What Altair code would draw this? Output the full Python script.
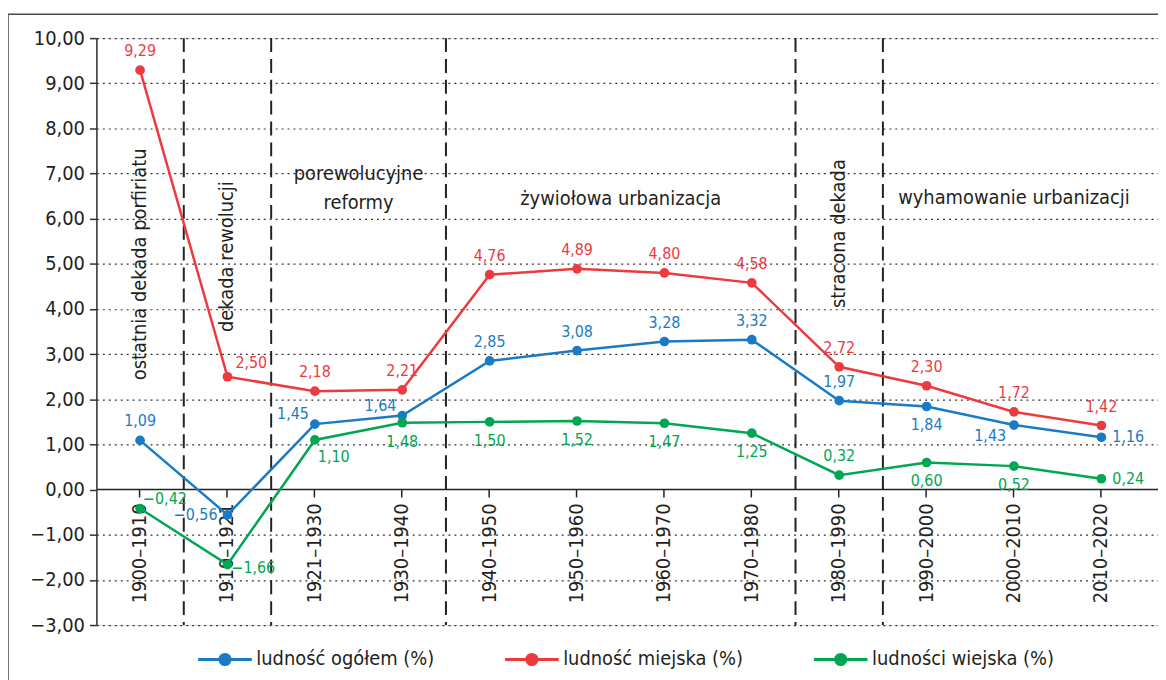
import altair as alt
import pandas as pd

# ---- data ----
periods = ["1900–1910", "1910–1921", "1921–1930", "1930–1940", "1940–1950", "1950–1960",
           "1960–1970", "1970–1980", "1980–1990", "1990–2000", "2000–2010", "2010–2020"]
ogolem = [1.09, -0.56, 1.45, 1.64, 2.85, 3.08, 3.28, 3.32, 1.97, 1.84, 1.43, 1.16]
miejska = [9.29, 2.50, 2.18, 2.21, 4.76, 4.89, 4.80, 4.58, 2.72, 2.30, 1.72, 1.42]
wiejska = [-0.42, -1.66, 1.10, 1.48, 1.50, 1.52, 1.47, 1.25, 0.32, 0.60, 0.52, 0.24]
series_names = ["ludność ogółem (%)", "ludność miejska (%)", "ludności wiejska (%)"]
y_ticks = [v / 2 for v in range(-6, 21)]

# period separators (dashed lines at left edge of these periods)
boundaries = ["1910–1921", "1921–1930", "1940–1950", "1980–1990", "1990–2000"]

# period annotations
rot_text = ["ostatnia dekada porfiriatu", "dekada rewolucji", "stracona dekada"]
rot_cat = ["1900–1910", "1910–1921", "1980–1990"]
rot_y = [4.99, 5.16, 5.67]
mid_text = ["wyhamowanie urbanizacji"]
mid_cat = ["2000–2010"]
mid_y = [6.46]
edge_text = ["porewolucyjne\nreformy", "żywiołowa urbanizacja"]
edge_cat = ["1930–1940", "1960–1970"]
edge_y = [6.98, 6.44]

# ---- styling ----
colors = ["#1a7bc4", "#ee3a3f", "#00a651"]
FONT = "Liberation Sans Narrow, Arial Narrow, DejaVu Sans Condensed, sans-serif"
TXT = "#231f20"
BIG = 20

placements = {
    "t": (0, -19, "center"),
    "b": (0, 19, "center"),
    "l": (-10, 0, "right"),
    "r": (11, 0, "left"),
    "tl": (-22, -10, "center"),
    "bl": (-24, 11, "center"),
    "tr": (8, -14, "left"),
    "tr2": (3, -10, "left"),
    "br": (4, 4, "left"),
    "br2": (3, 17, "left"),
}
pos_ogolem = ["t", "l", "tl", "tl", "t", "t", "t", "t", "t", "b", "bl", "r"]
pos_miejska = ["t", "tr", "t", "t", "t", "t", "t", "t", "t", "t", "t", "t"]
pos_wiejska = ["tr2", "br", "br2", "b", "b", "b", "b", "b", "t", "b", "b", "r"]

rows = []
for name, vals, pos in zip(series_names, [ogolem, miejska, wiejska],
                           [pos_ogolem, pos_miejska, pos_wiejska]):
    for p, v, ps in zip(periods, vals, pos):
        rows.append({"okres": p, "v": v, "seria": name, "pos": ps})
df = pd.DataFrame(rows)

W, H = 1069, 591

xscale = alt.Scale(domain=periods, paddingInner=0, paddingOuter=0.074, align=0)
yscale = alt.Scale(domain=[-3, 10], nice=False, zero=False)
cscale = alt.Scale(domain=series_names, range=colors)

legend_path = ("M-1,0L1,0M-0.19,0A0.19,0.19,0,1,1,0.19,0A0.19,0.19,0,1,1,-0.19,0Z")

x_axis = alt.Axis(
    title=None, orient="bottom", offset=-137, labelAngle=270, labelPadding=6,
    labelFont=FONT, labelFontSize=BIG, labelColor=TXT, tickSize=8, tickColor="#222",
    tickWidth=1.5, domainColor="#222", domainWidth=1.6, grid=False,
)
y_axis = alt.Axis(
    title=None, values=y_ticks,
    labelExpr="datum.value % 1 === 0 ? replace(format(datum.value, '.2f'), '.', ',') : ''",
    labelFont=FONT, labelFontSize=BIG, labelColor=TXT, labelPadding=5,
    tickSize=7, tickColor="#333", tickWidth=1.5, domainColor="#333", domainWidth=1.5,
    grid=True, gridColor="#333", gridDash=[2, 4], gridWidth=1.2,
    gridOpacity={"condition": {"test": "datum.value % 1 === 0 && datum.value !== 0", "value": 1},
                 "value": 0},
)

base = alt.Chart(df).encode(
    x=alt.X("okres:N", scale=xscale, axis=x_axis, sort=periods),
    y=alt.Y("v:Q", scale=yscale, axis=y_axis),
)

legend = alt.Legend(
    title=None, orient="none", legendX=101, legendY=597, direction="horizontal",
    symbolType=legend_path, symbolSize=2916, symbolStrokeWidth=3,
    labelFont=FONT, labelFontSize=BIG, labelColor=TXT, labelOffset=3, labelLimit=0,
    columnPadding=64, padding=0,
)

lines = base.mark_line(strokeWidth=2.5).encode(
    color=alt.Color("seria:N", scale=cscale, legend=legend, sort=series_names),
    detail="seria:N",
)
points = base.mark_point(filled=True, size=95, opacity=1).encode(
    color=alt.Color("seria:N", scale=cscale, legend=legend, sort=series_names),
)

label_layers = []
for key, (dx, dy, align) in placements.items():
    label_layers.append(
        base.transform_filter(alt.datum.pos == key)
        .transform_calculate(lab="replace(format(datum.v, '.2f'), '.', ',')")
        .mark_text(dx=dx, dy=dy, align=align, baseline="middle", font=FONT, fontSize=16)
        .encode(text="lab:N",
                color=alt.Color("seria:N", scale=cscale, legend=None))
    )

sep = alt.Chart(pd.DataFrame({"okres": boundaries})).mark_rule(
    color="#222", strokeWidth=2, strokeDash=[14, 7]
).encode(x=alt.X("okres:N", scale=xscale, bandPosition=0))

rot = alt.Chart(pd.DataFrame({"t": rot_text, "okres": rot_cat, "y": rot_y})).mark_text(
    angle=270, font=FONT, fontSize=BIG, color=TXT, baseline="middle", align="center"
).encode(x=alt.X("okres:N", scale=xscale), y=alt.Y("y:Q", scale=yscale), text="t:N")

mid = alt.Chart(pd.DataFrame({"t": mid_text, "okres": mid_cat, "y": mid_y})).mark_text(
    font=FONT, fontSize=BIG, color=TXT, baseline="middle", align="center"
).encode(x=alt.X("okres:N", scale=xscale), y=alt.Y("y:Q", scale=yscale), text="t:N")

edge = alt.Chart(pd.DataFrame({"t": edge_text, "okres": edge_cat, "y": edge_y})).mark_text(
    font=FONT, fontSize=BIG, color=TXT, baseline="middle", align="center",
    lineBreak="\n", lineHeight=29
).encode(x=alt.X("okres:N", scale=xscale, bandPosition=0), y=alt.Y("y:Q", scale=yscale), text="t:N")

frame = alt.Chart(pd.DataFrame({"a": [0]})).mark_rect(
    fillOpacity=0, stroke="#4a4a4a", strokeWidth=1.5
).encode(x=alt.value(-89), x2=alt.value(W + 60), y=alt.value(-24), y2=alt.value(H + 120))

chart = alt.layer(
    frame, sep, rot, mid, edge, lines, points, *label_layers
).properties(
    width=W, height=H,
    autosize=alt.AutoSizeParams(type="none"),
    padding={"left": 89, "top": 28, "right": 0, "bottom": 53},
).configure_view(stroke=None).configure(background="white")

chart.save("out.html", embed_options={"renderer": "svg", "actions": False})
